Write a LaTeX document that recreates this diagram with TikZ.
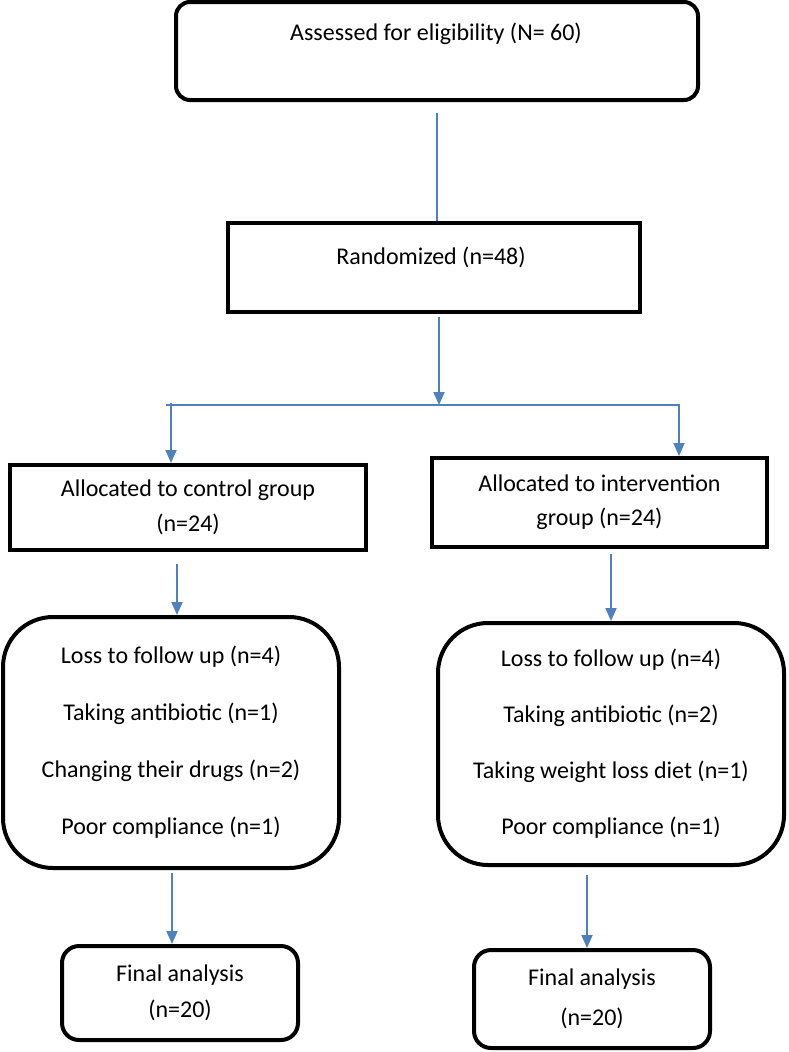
\documentclass[tikz,border=0pt]{standalone}
\usepackage{fontspec}
\setmainfont{Carlito}
\usetikzlibrary{arrows.meta}
\definecolor{flowblue}{RGB}{79,129,189}
\begin{document}
\begin{tikzpicture}[x=1pt,y=-1pt,
  boxline/.style={draw=black, line width=4pt, inner sep=0pt, fill=white},
  sqbox/.style={boxline, rectangle},
  rbox/.style={boxline, rectangle, rounded corners=#1},
  txt/.style={font=\fontsize{24}{#1}\selectfont, align=center, inner sep=0pt},
  txt/.default=35,
  flow/.style={draw=flowblue, line width=1.8pt},
  flowarrow/.style={flow, -{Triangle[width=11pt,length=13pt]}}
]
\fill[white, use as bounding box] (0,0) rectangle (789,1052);

% boxes
\node[rbox=14, minimum width=522pt, minimum height=98pt] (top) at (437,51) {};
\node[txt] (toptext) at (436,34) {Assessed for eligibility (N= 60)};

\node[sqbox, minimum width=412pt, minimum height=89pt] (rand) at (434,267.5) {};
\node[txt] (randtext) at (431,257) {Randomized (n=48)};

\node[sqbox, minimum width=356pt, minimum height=85pt, txt=35] (ctrl) at (188,507.5)
  {Allocated to control group\\(n=24)};
\node[sqbox, minimum width=335pt, minimum height=89pt, txt=34] (intv) at (599.5,502.5)
  {Allocated to intervention\\group (n=24)};

\node[rbox=50, minimum width=336pt, minimum height=251pt, txt=57] (lossL) at (171,742.5)
  {Loss to follow up (n=4)\\Taking antibiotic (n=1)\\Changing their drugs (n=2)\\Poor compliance (n=1)};
\node[rbox=50, minimum width=346pt, minimum height=242pt, txt=56] (lossR) at (611,744)
  {Loss to follow up (n=4)\\Taking antibiotic (n=2)\\Taking weight loss diet (n=1)\\Poor compliance (n=1)};

\node[rbox=17, minimum width=236pt, minimum height=94pt, txt=36] (finL) at (180,993)
  {Final analysis\\(n=20)};
\node[rbox=17, minimum width=236pt, minimum height=98pt, txt=40] (finR) at (592,999)
  {Final analysis\\(n=20)};

% connectors
\draw[flow] ([yshift=-11pt]top.south) -- (rand.north -| top.south);

\coordinate (split) at (439,405);
\coordinate (hL) at (166,405);
\coordinate (hR) at (680,405);
\coordinate (jL) at (171,405);
\coordinate (jR) at (679,405);
\path ([xshift=5pt,yshift=-3pt]rand.south) coordinate (r1);
\draw[flowarrow] (r1) -- (split);
\draw[flow] (hL) -- (hR);
\draw[flowarrow] ([yshift=2pt]jL) -- (jL |- ctrl.north);
\draw[flowarrow] (jR) -- (jR |- intv.north);

\path ([xshift=-11pt,yshift=-12pt]ctrl.south) coordinate (c1);
\draw[flowarrow] (c1) -- (c1 |- lossL.north);
\path ([xshift=11.5pt,yshift=-5pt]intv.south) coordinate (i1);
\draw[flowarrow] (i1) -- (i1 |- lossR.north);

\path ([xshift=1pt,yshift=-3pt]lossL.south) coordinate (l1);
\draw[flowarrow] (l1) -- (l1 |- finL.north);
\path ([xshift=-24pt,yshift=-8pt]lossR.south) coordinate (l2);
\draw[flowarrow] (l2) -- (l2 |- finR.north);
\end{tikzpicture}
\end{document}
